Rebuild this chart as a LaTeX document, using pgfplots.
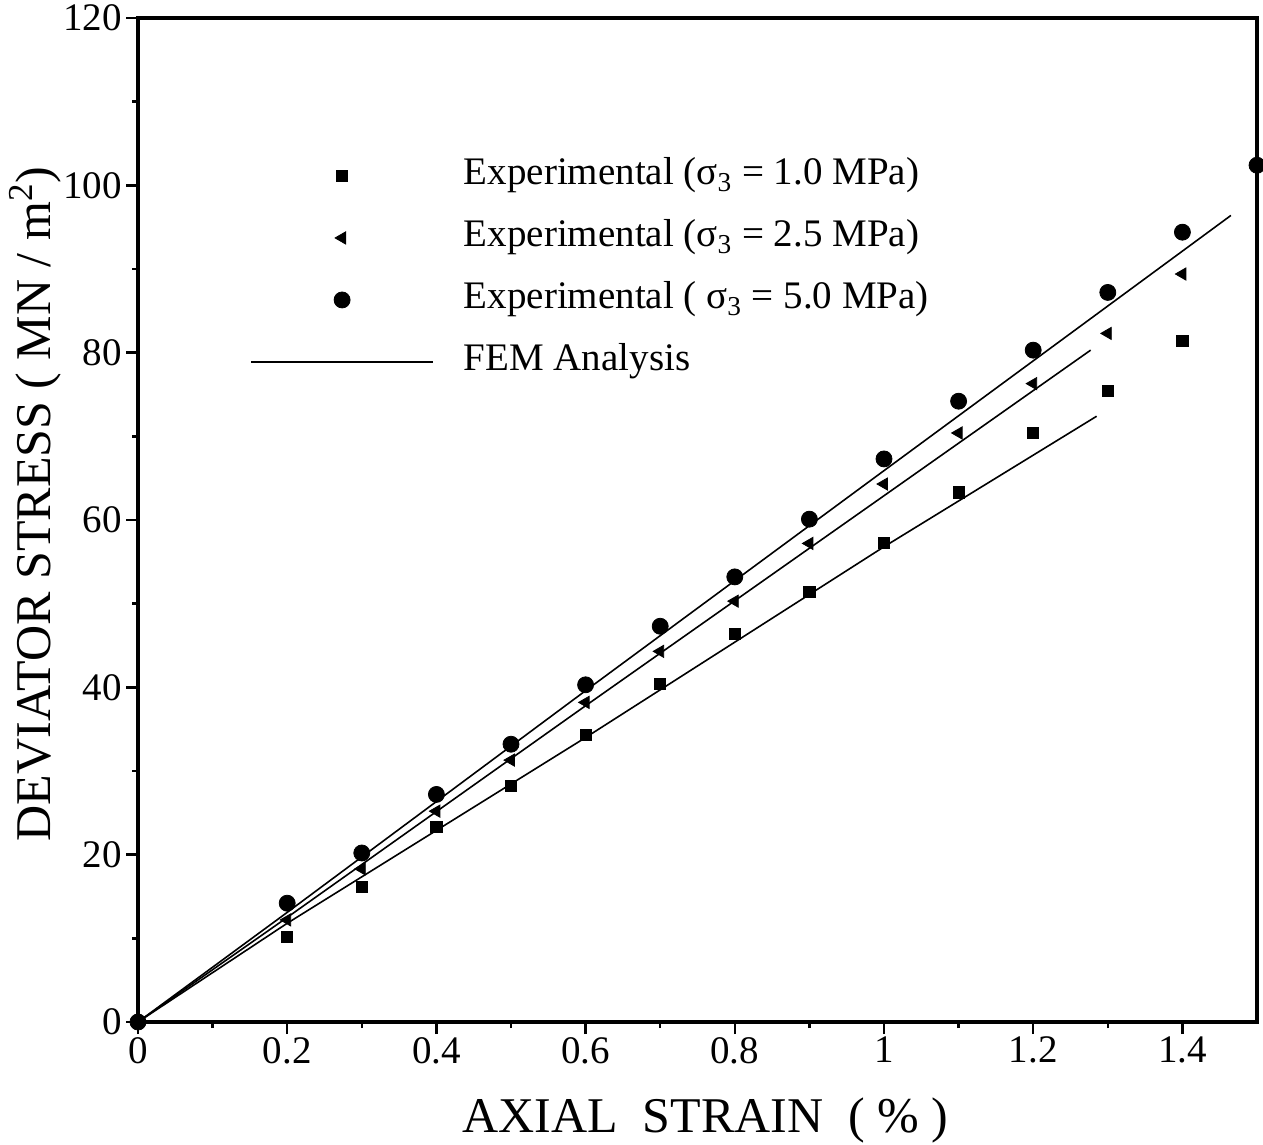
\documentclass[border=0pt]{standalone}
\usepackage{pgfplots}
\pgfplotsset{compat=1.18}
\usepackage{fontspec}
\setmainfont{Liberation Serif}
\begin{document}
\begin{tikzpicture}
\begin{axis}[
 width=559.5pt, height=502pt, scale only axis,
 xmin=0, xmax=1.5, ymin=0, ymax=120,
 xtick={0,0.2,0.4,0.6,0.8,1,1.2,1.4},
 xticklabels={0,0.2,0.4,0.6,0.8,1,1.2,1.4},
 ytick={0,20,40,60,80,100,120},
 yticklabels={0,20,40,60,80,100,120},
 minor x tick num=1, minor y tick num=1,
 xtick pos=bottom, ytick pos=left,
 tick align=outside, major tick length=6pt, minor tick length=3pt,
 every tick/.style={line width=1.2pt, black},
 axis line style={line width=1.8pt},
 ticklabel style={font=\fontsize{19.5}{19.5}\selectfont},
 xticklabel style={yshift=2pt},
 yticklabel style={xshift=1.5pt},
 /pgf/number format/assume math mode=true,
 xlabel={AXIAL\ \ STRAIN\ \ ( \% )},
 ylabel={DEVIATOR STRESS ( MN / m\textsuperscript{2})},
 label style={font=\fontsize{25}{25}\selectfont},
 xlabel style={at={(axis description cs:0.507,-0.1096)}, anchor=base},
 ylabel style={at={(axis description cs:-0.0785,0.516)}, anchor=base},
 legend style={draw=none, fill=none, inner sep=0pt, at={(0.100,0.862)}, anchor=north west,
   font=\fontsize{19.5}{19.5}\selectfont, row sep=12pt,
   nodes={inner sep=0pt, text height=14pt, text depth=5pt},
   /tikz/every odd column/.append style={column sep=15pt}},
 legend cell align=left,
 legend image code/.code={\draw[mark repeat=2,mark phase=2,#1] plot coordinates {(0pt,0pt) (45.5pt,0pt) (91pt,0pt)};},
]
\addplot[only marks, mark=square*, mark size=2.8pt, black] coordinates {
 (0,0) (0.2,10.2) (0.3,16.1) (0.4,23.3) (0.5,28.2) (0.6,34.3) (0.7,40.4) (0.8,46.4)
 (0.9,51.4) (1.0,57.3) (1.1,63.3) (1.2,70.4) (1.3,75.4) (1.4,81.4)};
\addlegendentry{Experimental (σ\textsubscript{3} = 1.0 MPa)}
\addplot[only marks, mark=triangle*, mark options={rotate=90}, mark size=3.5pt, black] coordinates {
 (0.2,12.2) (0.3,18.3) (0.4,25.2) (0.5,31.3) (0.6,38.2) (0.7,44.3) (0.8,50.3)
 (0.9,57.2) (1.0,64.3) (1.1,70.4) (1.2,76.3) (1.3,82.3) (1.4,89.4)};
\addlegendentry{Experimental (σ\textsubscript{3} = 2.5 MPa)}
\addplot[only marks, mark=*, mark size=4pt, black] coordinates {
 (0,0) (0.2,14.2) (0.3,20.2) (0.4,27.2) (0.5,33.2) (0.6,40.3) (0.7,47.3) (0.8,53.2)
 (0.9,60.1) (1.0,67.3) (1.1,74.2) (1.2,80.3) (1.3,87.2) (1.4,94.4) (1.5,102.4)};
\addlegendentry{Experimental ( σ\textsubscript{3} = 5.0 MPa)}
\addplot[black, line width=0.8pt, mark=none] coordinates {
 (0,0) (0.2,11.8) (0.6,34.0) (1.0,56.8) (1.285,72.4)};
\addlegendentry{FEM Analysis}
\addplot[black, line width=0.8pt, mark=none, forget plot] coordinates {
 (0,0) (0.2,12.5) (0.6,37.8) (1.0,62.9) (1.277,80.3)};
\addplot[black, line width=0.8pt, mark=none, forget plot] coordinates {
 (0,0) (0.2,13.1) (0.6,39.6) (1.0,65.9) (1.465,96.4)};
\end{axis}
\pgfresetboundingbox
\path ([shift={(-69pt,-61.5pt)}]current axis.south west) rectangle ([shift={(3pt,9pt)}]current axis.north east);
\end{tikzpicture}
\end{document}
